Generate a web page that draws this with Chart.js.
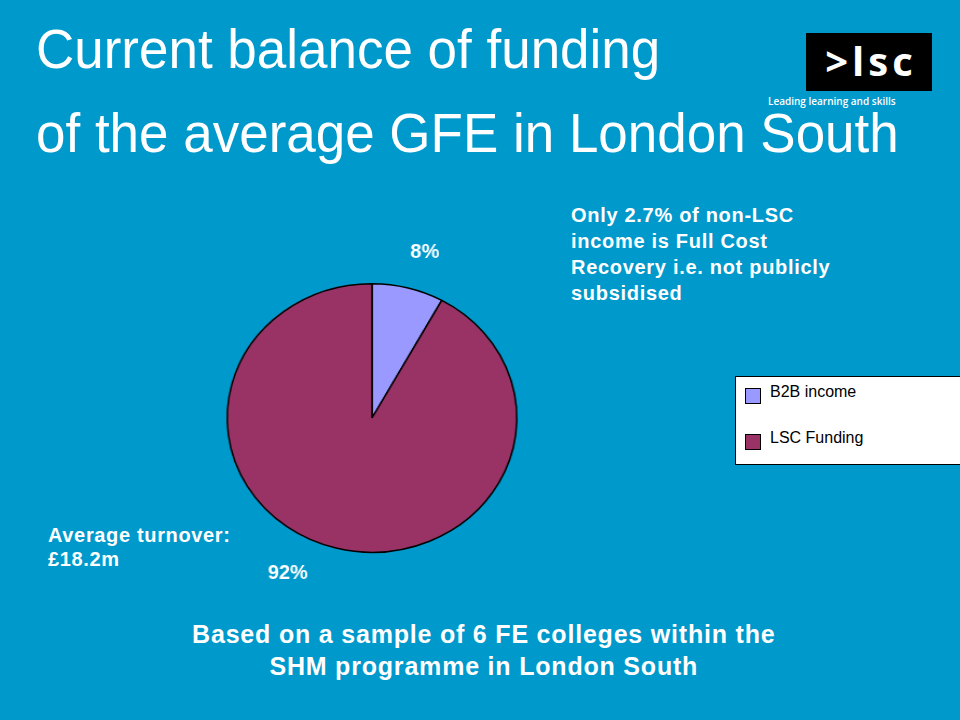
<!DOCTYPE html>
<html>
<head>
<meta charset="utf-8">
<script src="https://cdn.jsdelivr.net/npm/chart.js@4"></script>
<style>
  html, body { margin: 0; padding: 0; }
  body {
    width: 960px; height: 720px; overflow: hidden; position: relative;
    background: #0099cc; color: #fff;
    font-family: "Liberation Sans", Arial, sans-serif;
  }
  .abs { position: absolute; white-space: nowrap; }
  .title { font-size: 55px; line-height: 1; left: 36px; transform: scaleX(0.963); transform-origin: 0 0; }
  .bold { font-weight: bold; }
  #logo {
    left: 806px; top: 33px; width: 126px; height: 58px; background: #000;
    font-family: "Open Sans", sans-serif; font-weight: bold; font-size: 40px;
    line-height: 56px; text-align: center; letter-spacing: 4px; padding-left: 4px; box-sizing: border-box;
  }
  #tagline { left: 768px; top: 94px; font-family: "Open Sans", sans-serif; font-size: 10px; font-weight: 600; }
  #pieWrap {
    left: 172px; top: 218px; width: 400px; height: 400px;
    transform: scaleX(1.0787); transform-origin: 200px 200px;
  }
  #legend {
    left: 735px; top: 376px; width: 226px; height: 89px; background: #fff;
    border: 1px solid #000; box-sizing: border-box; color: #000; font-size: 16px;
  }
  #legend .item { position: absolute; left: 34px; }
  #legend .swatch { position: absolute; left: -25px; top: 5px; width: 14px; height: 14px; border: 1px solid #000; }
</style>
</head>
<body>
<div class="abs title" style="top:22px">Current balance of funding</div>
<div class="abs title" style="top:106px">of the average GFE in London South</div>
<div class="abs" id="logo">&gt;lsc</div>
<div class="abs" id="tagline">Leading learning and skills</div>

<div class="abs bold" style="left:571px; top:202px; font-size:20px; line-height:26px; letter-spacing:0.7px;">Only 2.7% of non-LSC<br>income is Full Cost<br>Recovery i.e. not publicly<br>subsidised</div>
<div class="abs bold" style="left:48px; top:523px; font-size:20px; line-height:24px; letter-spacing:0.65px;">Average turnover:<br>£18.2m</div>
<div class="abs bold" style="left:0; width:966px; top:618px; font-size:25px; line-height:32px; letter-spacing:0.8px; padding-left:0.8px; text-align:center;">Based on a sample of 6 FE colleges within the<br>SHM programme in London South</div>

<div class="abs" id="pieWrap"><canvas id="pie" width="400" height="400"></canvas></div>
<div class="abs" id="legend"></div>

<script>
// funding split
const categories = ["B2B income", "LSC Funding"];
const shares = [8, 92];
const sliceColors = ["#9999ff", "#993366"];
// where each percentage label sits relative to the pie centre (unscaled px)
const labelOffsets = [[49, -166], [-78, 155]];
const stretchX = 1.0787;

// legend, built from the same arrays
const legend = document.getElementById("legend");
categories.forEach((name, i) => {
  const item = document.createElement("div");
  item.className = "item";
  item.style.top = (6 + i * 46) + "px";
  item.innerHTML = `<span class="swatch" style="background:${sliceColors[i]}"></span>${name}`;
  legend.appendChild(item);
});

const pctLabels = {
  id: "pctLabels",
  afterDatasetsDraw(chart) {
    const ctx = chart.ctx;
    const arcs = chart.getDatasetMeta(0).data;
    ctx.save();
    ctx.fillStyle = "#ffffff";
    ctx.font = "bold 20px 'Liberation Sans', Arial, sans-serif";
    ctx.textAlign = "center";
    ctx.textBaseline = "middle";
    arcs.forEach((arc, i) => {
      ctx.save();
      ctx.translate(arc.x + labelOffsets[i][0], arc.y + labelOffsets[i][1]);
      ctx.scale(1 / stretchX, 1);
      ctx.fillText(shares[i] + "%", 0, 0);
      ctx.restore();
    });
    ctx.restore();
  }
};

new Chart(document.getElementById("pie").getContext("2d"), {
  type: "pie",
  data: {
    labels: categories,
    datasets: [{
      data: shares,
      backgroundColor: sliceColors,
      borderColor: "#000000",
      borderWidth: 1.5,
    }],
  },
  options: {
    responsive: false,
    animation: false,
    layout: { padding: { top: 65, bottom: 65 } },
    plugins: {
      legend: { display: false },
      tooltip: { enabled: false },
    },
  },
  plugins: [pctLabels],
});
</script>
</body>
</html>
